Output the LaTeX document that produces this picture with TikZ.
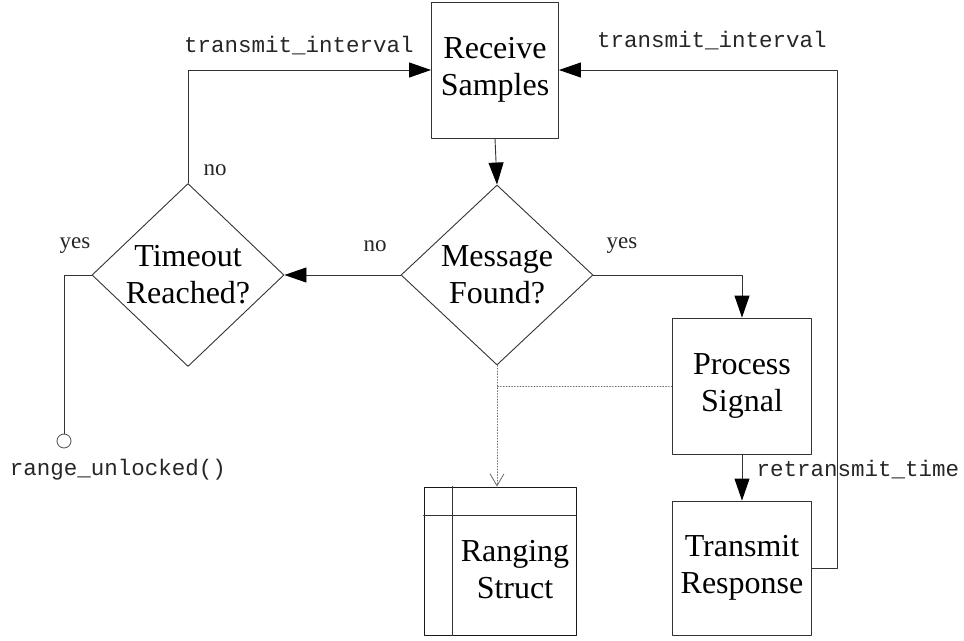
\documentclass[tikz,border=0pt]{standalone}
\usepackage{fontspec}
\setmainfont{Liberation Serif}
\setmonofont{Liberation Mono}
\usetikzlibrary{arrows.meta,shapes.geometric,calc}

\begin{document}
\begin{tikzpicture}[line cap=round,line join=round,>={Triangle[length=22pt,width=15pt,color=black]},x=1pt,y=-1pt,
    box/.style={draw=black!80,line width=0.9pt,minimum width=139pt,minimum height=136pt,inner sep=0pt,align=center,font=\fontsize{32}{37}\selectfont},
    decision/.style={diamond,draw=black!80,line width=0.9pt,minimum width=192pt,minimum height=180pt,inner sep=0pt,align=center,font=\fontsize{32}{37}\selectfont},
    flow/.style={line width=0.9pt,draw=black!80},
    weak/.style={line width=0.8pt,draw=black!60,dotted},
    code/.style={font=\fontsize{22.5}{24}\ttfamily,text=black!85,inner sep=0pt},
    answer/.style={font=\fontsize{23}{24}\selectfont,text=black!85,inner sep=0pt}]
    \useasboundingbox (0,0) rectangle (964,640);
    \node[box,minimum width=127pt] (receive) at (495,70) {Receive\\Samples};
    \node[decision] (message) at (497,275) {Message\\Found?};
    \node[decision] (timeout) at (188,275) {Timeout\\Reached?};
    \node[box] (process) at (742,386) {Process\\Signal};
    \node[box,minimum height=134pt] (transmit) at (742,568) {Transmit\\Response};
    \node[draw=black!90,line width=0.9pt,minimum width=152pt,minimum height=148pt,inner sep=0pt] (ranging) at (500,561) {};
    \node[font=\fontsize{32}{37}\selectfont,align=center] (rangingtext) at (515,570) {Ranging\\Struct};
    \node[circle,draw=black!70,line width=0.8pt,minimum size=14pt,inner sep=0pt] (unlocked) at (64,441) {};
    \draw[flow] ($(ranging.north west)+(29,0)$) -- ($(ranging.south west)+(29,0)$);
    \draw[flow] ($(ranging.north west)+(0,29)$) -- ($(ranging.north east)+(0,29)$);
    \draw[flow,->] (receive.south) -- (message.north);
    \draw[flow,->] (message.west) -- (timeout.east);
    \draw[flow,->] (timeout.north) |- (receive.west);
    \draw[flow] (timeout.west) -| (unlocked.north);
    \draw[flow,->] (message.east) -| (process.north);
    \draw[flow,->] (process.south) -- (transmit.north);
    \draw[flow,->] (transmit.east) -- ++(25,0) |- (receive.east);
    \draw[weak,-{Straight Barb[length=12pt,width=14pt,line width=0.8pt]}] (message.south) -- (ranging.north -| message.south);
    \draw[weak] (process.west) -- (process.west -| message.south);
    \node[code] (leftinterval) at (299,46) {transmit\_interval};
    \node[code] (rightinterval) at (712,41) {transmit\_interval};
    \node[code] (retransmit) at (858,470) {retransmit\_time};
    \node[code] (unlockedlabel) at (118,470) {range\_unlocked()};
    \node[answer] (timeoutno) at (215,170) {no};
    \node[answer] (timeoutyes) at (75,246) {yes};
    \node[answer] (messageno) at (375,246) {no};
    \node[answer] (messageyes) at (622,246) {yes};
\end{tikzpicture}
\end{document}
